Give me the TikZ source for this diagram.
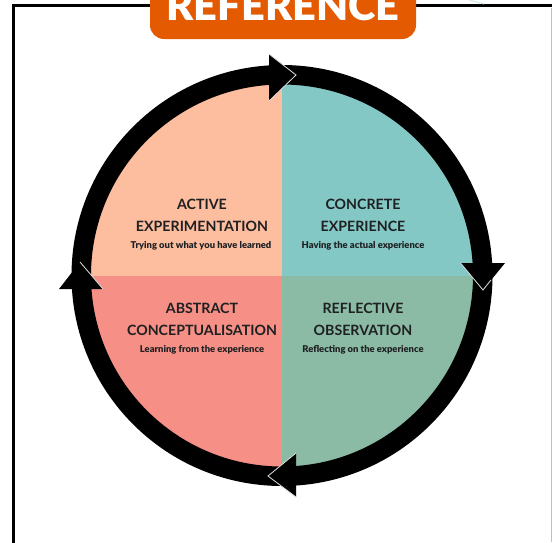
\documentclass[tikz,border=0pt]{standalone}
\usepackage{fontspec}
\setmainfont{Lato}
\newfontfamily\heavyfont{Lato Black}
\definecolor{peach}{HTML}{FDBD9F}
\definecolor{teal1}{HTML}{84C8C5}
\definecolor{salmon}{HTML}{F68F85}
\definecolor{sage}{HTML}{8BBBA5}
\definecolor{badge}{HTML}{E35A00}
\definecolor{ink}{HTML}{1E2022}
\tikzset{
  headtip/.style={fill=black},
  headedge/.style={draw=black!12,line width=0.8pt,line join=miter},
  titletext/.style={font=\fontsize{14.2}{22}\selectfont\bfseries,text=ink,align=center,inner sep=0pt},
  subtext/.style={font=\fontsize{9.4}{10}\heavyfont,text=ink,inner sep=0pt}
}
\begin{document}
\begin{tikzpicture}[x=1pt,y=-1pt]
\useasboundingbox (0,0) rectangle (552,542);
\clip (0,0) rectangle (552,542);
\fill[white] (0,0) rectangle (552,542);
% frame
\draw[black,line width=2.5pt] (13.5,545) -- (13.5,5.5) -- (555,5.5);
\draw[black!25,line width=0.8pt] (551.5,8) -- (551.5,542);
\draw[teal1!40,line width=1pt] (466,-1) -- (484,4);
% badge
\fill[badge,rounded corners=14pt] (150,-30) rectangle (416,39);
\node[font=\fontsize{41.5}{42}\heavyfont,text=white,anchor=base,inner sep=0pt] (badgetext) at (283,20) {REFERENCE};
% quadrants
\begin{scope}
\clip (282,275.5) circle[radius=195];
\fill[peach] (80,70) rectangle (490,480);
\fill[teal1] (282,70) rectangle (490,480);
\fill[salmon] (80,275.5) rectangle (282,480);
\fill[sage] (282,275.5) rectangle (490,480);
\end{scope}
% ring
\draw[black,line width=19.5pt] (282,275.5) circle[radius=200.75];
% arrowheads
\fill[headtip] (296,75) -- (269,54) -- (269,101) -- cycle;
\draw[headedge] (269,54) -- (296,75) -- (269,101);
\fill[headtip] (483,290) -- (460.5,263) -- (505,263) -- cycle;
\draw[headedge] (460.5,263) -- (483,290) -- (491,280);
\fill[headtip] (268,476) -- (296,453) -- (296,497) -- cycle;
\draw[headedge] (296,453) -- (268,476) -- (296,497);
\fill[headtip] (80,262) -- (59,289) -- (103,289) -- cycle;
\draw[headedge] (80,262) -- (103,289);
% text
\node[titletext] (ae) at (202,215) {ACTIVE\\EXPERIMENTATION};
\node[subtext] (aes) at (201,246) {Trying out what you have learned};
\node[titletext] (ce) at (363,215) {CONCRETE\\EXPERIENCE};
\node[subtext] (ces) at (363,246) {Having the actual experience};
\node[titletext] (ac) at (202,319) {ABSTRACT\\CONCEPTUALISATION};
\node[subtext] (acs) at (202,350) {Learning from the experience};
\node[titletext] (ro) at (363,319) {REFLECTIVE\\OBSERVATION};
\node[subtext] (ros) at (363,350) {Reflecting on the experience};
\end{tikzpicture}
\end{document}
